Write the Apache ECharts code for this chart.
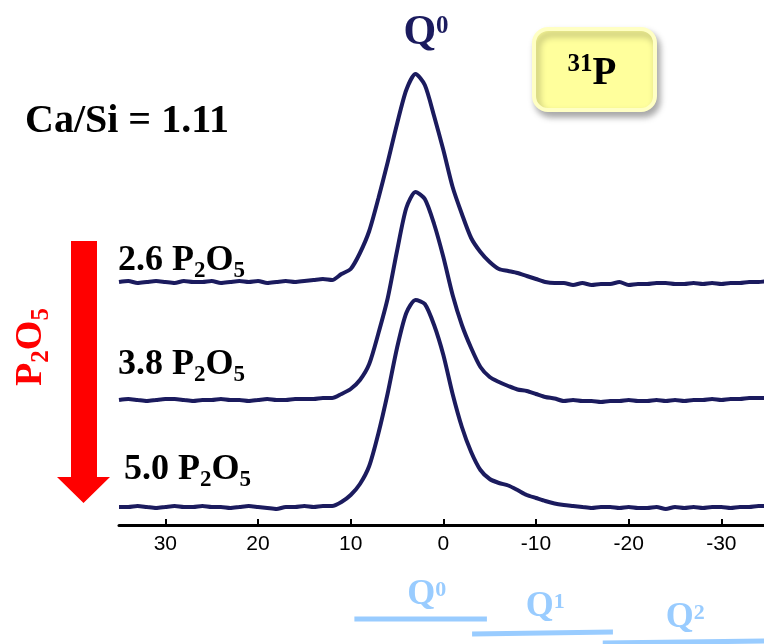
<!DOCTYPE html>
<html>
<head>
<meta charset="utf-8">
<script src="https://cdn.jsdelivr.net/npm/echarts@6/dist/echarts.min.js"></script>
<style>
  html, body { margin: 0; padding: 0; background: #fff; }
  #chart { width: 764px; height: 644px; }
</style>
</head>
<body>
<div id="chart"></div>
<script>
// chemical shift (ppm), one point per ppm
const shift = [35, 34, 33, 32, 31, 30, 29, 28, 27, 26, 25, 24, 23, 22, 21, 20, 19, 18, 17, 16, 15, 14,
  13, 12, 11, 10, 9, 8, 7, 6, 5, 4, 3, 2, 1, 0, -1, -2, -3, -4, -5, -6, -7, -8, -9, -10, -11, -12,
  -13, -14, -15, -16, -17, -18, -19, -20, -21, -22, -23, -24, -25, -26, -27, -28, -29, -30, -31, -32, -33, -34, -35]

// 31P intensities (a.u.)
const p26 = [0, 1, -1, 0, 1, 0, -1, 1, 0, 0, 1, -1, 0, 1, 0, 1, -1, 0, 1, 0, 1, 2,
  3, 2, 8, 13, 29, 51, 84, 120, 158, 192, 208, 197, 166, 132, 95, 68, 44, 30, 20, 13, 11, 9, 6, 3, 0, -1,
  -1, -3, -1, -3, -2, -2, 0, -3, -2, -2, -1, -1, -2, -2, -1, -2, -1, -2, -1, -1, 0, 0, 1]
const p38 = [0, 1, 0, -1, 0, 1, 1, 0, -1, 0, 0, 1, 0, 0, -1, 0, 1, 0, 0, 1, 1, 1,
  2, 2, 6, 11, 20, 36, 67, 102, 149, 192, 208, 201, 176, 143, 105, 75, 52, 33, 23, 18, 14, 10.5, 9, 6, 3, 1.5,
  -1, 0, -1, -1, -2, -1, -1, 0, -1, -1, 0, -1, 0, -1, 0, 0, 1, 0, 1, 1, 2, 2, 2]
const p50 = [0, 0, 1, 0, -1, 0, 1, 0, 0, 1, 0, 0, -1, 0, 1, 0, -1, -2, 0, 0, 1, 0,
  1, 1, 5, 12, 23, 41, 74, 114, 159, 194, 207, 203, 182, 152, 113, 80, 55, 37, 28, 24, 21.5, 17, 12, 9, 6, 3.5,
  2, 1, 0, -1, 0, 0, -1, 0, -1, -1, 0, -2, 0, -1, 0, -1, 0, 0, -1, 0, 0, 1, 1]

const spectra = [p26, p38, p50]
const stackOffset = [243, 125, 18]
const sampleLabels = ['2.6', '3.8', '5.0']
const tickValues = [30, 20, 10, 0, -10, -20, -30]

// Qn ranges shown under the axis (ppm)
const qNames = ['0', '1', '2']
const qRanges = [[9.6, -4.7], [-3.1, -18.3], [-17.2, -35]]
const qLabelShift = [1.8, -11, -26.1]

const NAVY = '#1b1b5e'
const SERIF = '"Liberation Serif", "Times New Roman", serif'

const chart = echarts.init(document.getElementById('chart'))

const subRich = (size, sub, lh, color) => ({
  m: { fontFamily: SERIF, fontWeight: 'bold', fontSize: size, lineHeight: lh, verticalAlign: 'middle', color },
  s: { fontFamily: SERIF, fontWeight: 'bold', fontSize: sub, lineHeight: sub, verticalAlign: 'bottom', color },
})
const supRich = (size, sup, lh, color) => ({
  m: { fontFamily: SERIF, fontWeight: 'bold', fontSize: size, lineHeight: lh, verticalAlign: 'middle', color },
  s: { fontFamily: SERIF, fontWeight: 'bold', fontSize: sup, lineHeight: sup, verticalAlign: 'top', color },
})

function textEl(x, y, text, rich, fill, align, extra = {}) {
  return Object.assign({
    type: 'text', x, y, z: 10,
    style: { text, rich, fill, align, verticalAlign: 'middle' },
  }, extra)
}

const labelPos = [[118, 261], [118, 365], [124, 470]]

const staticGraphics = [
  // 31P box
  {
    type: 'rect', z: 5,
    shape: { x: 534, y: 29, width: 121, height: 81, r: 14 },
    style: { fill: '#ffff9c', stroke: '#ffffc4', lineWidth: 4, shadowBlur: 7, shadowOffsetX: 3, shadowOffsetY: 5, shadowColor: 'rgba(0,0,0,0.32)' },
  },
  textEl(592, 74, '{s|31}{m|P}', supRich(39, 25, 44, '#000'), '#000', 'center'),
  textEl(426, 33, '{m|Q}{s|0}', supRich(42, 25, 37, NAVY), NAVY, 'center'),
  {
    type: 'text', x: 25, y: 122, z: 10,
    style: { text: 'Ca/Si = 1.11', fill: '#000', align: 'left', verticalAlign: 'middle', font: 'bold 40px ' + SERIF },
  },
  // red P2O5 arrow
  {
    type: 'polygon', z: 5,
    shape: { points: [[71, 241], [97, 241], [97, 477], [110, 477], [83.5, 503], [57, 477], [71, 477]] },
    style: { fill: '#ff0000' },
  },
  textEl(31, 347, '{m|P}{s|2}{m|O}{s|5}', subRich(38, 25, 46, '#ff0000'), '#ff0000', 'center',
    { rotation: Math.PI / 2 }),
  ...sampleLabels.map((s, k) => textEl(labelPos[k][0], labelPos[k][1],
    `{m|${s} P}{s|2}{m|O}{s|5}`, subRich(36, 23, 44, '#000'), '#000', 'left')),
]

chart.setOption({
  animation: false,
  grid: { left: 119, right: 0, top: 40, bottom: 119, outerBoundsMode: 'none' },
  xAxis: {
    type: 'value', inverse: true, min: -34.6, max: 35,
    axisLine: { onZero: false, lineStyle: { color: '#000', width: 3 } },
    axisTick: { inside: true, length: 6, customValues: tickValues, lineStyle: { color: '#000', width: 2 } },
    axisLabel: { customValues: tickValues, color: '#000', fontSize: 21, fontFamily: '"Liberation Sans", Arial, sans-serif', margin: 9 },
    splitLine: { show: false },
  },
  yAxis: { type: 'value', min: 0, max: 485, show: false },
  series: spectra.map((vals, k) => ({
    type: 'line', name: sampleLabels[k],
    data: shift.map((x, i) => [x, stackOffset[k] + vals[i]]),
    showSymbol: false, smooth: 0.25,
    lineStyle: { color: NAVY, width: 4 },
  })),
  graphic: { elements: staticGraphics },
})

// Qn range bars under the axis, placed through the x axis
const px = v => chart.convertToPixel({ xAxisIndex: 0 }, v)
const qBarY = [[619, 619], [634, 632], [643, 641]]
const qLabelY = [595, 607, 618]
const qGraphics = []
qRanges.forEach((r, k) => {
  qGraphics.push({
    type: 'line', z: 5,
    shape: { x1: px(r[0]), y1: qBarY[k][0], x2: px(r[1]), y2: qBarY[k][1] },
    style: { stroke: '#99ccff', lineWidth: 5 },
  })
  qGraphics.push(textEl(px(qLabelShift[k]), qLabelY[k], `{m|Q}{s|${qNames[k]}}`,
    supRich(36, 22, 31, '#99ccff'), '#99ccff', 'center'))
})
chart.setOption({ graphic: { elements: staticGraphics.concat(qGraphics) } })
</script>
</body>
</html>
